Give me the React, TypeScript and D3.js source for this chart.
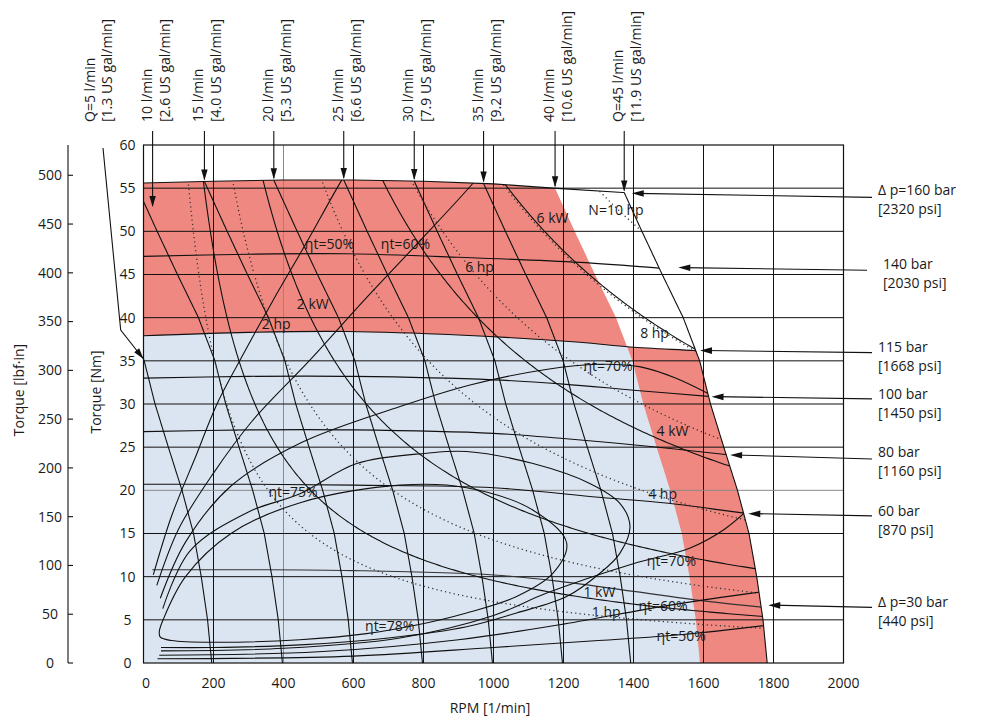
import React from "react";
import * as d3 from "d3";

// ---------- axes ----------
const RPM_TICKS = [0, 200, 400, 600, 800, 1000, 1200, 1400, 1600, 1800, 2000];
const NM_TICKS = [0, 5, 10, 15, 20, 25, 30, 35, 40, 45, 50, 55, 60];
const LBF_TICKS = [0, 50, 100, 150, 200, 250, 300, 350, 400, 450, 500];
const GRAY_RPM = 400;
const GRAY_NM = 20;

// ---------- pressure lines [rpm, Nm] ----------
const P160 = [[0, 55.6], [200, 55.8], [400, 55.95], [600, 55.95], [800, 55.8], [1000, 55.5], [1170, 55.0], [1369, 54.5], [1500, 54.2], [1800, 53.5]];
const P140 = [[0, 47.1], [300, 47.35], [580, 47.4], [900, 47.0], [1247, 46.4], [1485, 45.7], [1650, 45.2]];
const P115 = [[0, 37.9], [300, 38.3], [580, 38.4], [900, 38.0], [1247, 37.15], [1390, 36.6], [1574, 36.2], [1700, 35.9]];
const P100 = [[0, 33.0], [300, 33.2], [600, 33.2], [1000, 32.8], [1200, 32.3], [1400, 31.6], [1623, 30.85], [1750, 30.4]];
const P80 = [[0, 26.8], [300, 27.0], [600, 27.0], [1000, 26.6], [1200, 26.0], [1456, 25.05], [1676, 24.1], [1800, 23.6]];
const P60 = [[0, 20.7], [300, 20.7], [600, 20.6], [1000, 20.3], [1300, 19.2], [1500, 18.5], [1728, 17.3], [1850, 16.8]];
const P30 = [[25, 10.8], [300, 10.8], [600, 10.7], [1000, 10.2], [1200, 9.4], [1400, 8.3], [1600, 7.2], [1785, 6.4], [1900, 6.0]];

// ---------- flow lines ----------
const FLOW_Q = [5, 10, 15, 20, 25, 30, 35, 40, 45];
const FLOW_BASE_RPM = [195, 397, 597, 797, 997, 1197, 1392, 1590, 1782];
const SLIP_TORQUE = [0, 5, 10, 15, 20, 25, 30, 35, 40, 45, 50, 55.6, 60];
const SLIP_RPM = [0, 12, 30, 52, 85, 124, 162, 193, 240, 300, 358, 421, 470];
const FLOW_LABEL_1 = ["Q=5 l/min", "10 l/min", "15 l/min", "20 l/min", "25 l/min", "30 l/min", "35 l/min", "40 l/min", "Q=45 l/min"];
const FLOW_LABEL_2 = ["[1.3 US gal/min]", "[2.6 US gal/min]", "[4.0 US gal/min]", "[5.3 US gal/min]", "[6.6 US gal/min]", "[7.9 US gal/min]", "[9.2 US gal/min]", "[10.6 US gal/min]", "[11.9 US gal/min]"];
const Q10_TIP = [26, 52.7];

// ---------- power lines ----------
const KW_LEVELS = [1, 2, 4, 6];
const HP_LEVELS = [1, 2, 4, 6, 8, 10];

// ---------- efficiency contours [rpm, Nm] ----------
const ETA50_UP = [[28, 10.2], [80, 17], [150, 24], [210, 30], [276, 35.1], [370, 42], [463, 48.5], [566, 55.9], [600, 58]];
const ETA50_LOW = [[40, 0.5], [600, 0.8], [1000, 1.8], [1300, 2.6], [1540, 3.3], [1850, 4.7]];
const ETA60_UP = [[38, 9.0], [100, 15.5], [200, 22], [310, 28], [476, 35.1], [630, 42], [783, 48.6], [942, 55.6], [990, 58]];
const ETA60_LOW = [[45, 0.9], [500, 1.3], [900, 2.7], [1200, 4.5], [1475, 6.5], [1650, 7.6], [1850, 8.7]];
const ETA70_UP = [[48, 7.5], [120, 14], [250, 20.5], [450, 25.5], [733, 29.7], [933, 32.2], [1150, 34], [1300, 34.6], [1420, 34.3], [1520, 33], [1660, 30.2]];
const ETA70_LOW = [[50, 1.4], [400, 1.7], [733, 2.9], [1000, 5.5], [1152, 8.1], [1399, 11.5], [1560, 13.3], [1660, 15.5], [1760, 19]];
const ETA75 = [[55, 6.3], [133, 13], [300, 17.5], [447, 19.6], [609, 23.1], [809, 24.3], [923, 24.5], [1113, 23.1], [1275, 20.8], [1361, 18.5], [1390, 15.8], [1361, 12.7], [1304, 10.4], [1209, 7.7], [1066, 5.8], [923, 4.2], [700, 2.9], [447, 2.1], [200, 1.8], [50, 1.8]];
const ETA78 = [[45, 3.6], [56, 5.0], [120, 10], [250, 15], [450, 18.6], [733, 20.6], [923, 20.3], [1113, 17.7], [1209, 13.9], [1170, 10.4], [1066, 7.7], [923, 5.8], [780, 4.4], [637, 3.4], [447, 2.7], [200, 2.4], [80, 2.6], [48, 3.0]];

// ---------- in-chart labels ----------
const IN_TEXT = ["ηt=50%", "ηt=60%", "6 hp", "2 kW", "2 hp", "6 kW", "N=10 hp", "8 hp", "ηt=70%", "4 kW", "4 hp", "ηt=70%", "1 kW", "1 hp", "ηt=60%", "ηt=50%", "ηt=75%", "ηt=78%"];
const IN_RPM = [461, 678, 919, 438, 338, 1123, 1271, 1419, 1257, 1466, 1442, 1438, 1257, 1281, 1414, 1466, 357, 633];
const IN_NM = [48.5, 48.5, 45.8, 41.6, 39.3, 51.5, 52.5, 38.2, 34.4, 26.9, 19.6, 11.8, 8.2, 5.85, 6.6, 3.1, 19.75, 4.3];

// ---------- pressure labels ----------
const PRESS_LABEL_1 = ["Δ p=160 bar", "140 bar", "115 bar", "100 bar", "80 bar", "60 bar", "Δ p=30 bar"];
const PRESS_LABEL_2 = ["[2320 psi]", "[2030 psi]", "[1668 psi]", "[1450 psi]", "[1160 psi]", "[870 psi]", "[440 psi]"];
const PRESS_TIP_RPM = [1395, 1528, 1590, 1623, 1676, 1728, 1785];
const PRESS_TIP_NM = [54.4, 45.8, 36.2, 30.85, 24.1, 17.3, 6.7];

const RED = "#EF8880";
const BLUE = "#DBE5F1";
const FONT = "'Open Sans', 'Noto Sans', sans-serif";

function head(x1: number, y1: number, x2: number, y2: number, len = 11, hw = 3.2) {
  const a = Math.atan2(y2 - y1, x2 - x1);
  const bx = x2 - len * Math.cos(a), by = y2 - len * Math.sin(a);
  const nx = -Math.sin(a) * hw, ny = Math.cos(a) * hw;
  return `M${x2},${y2}L${bx + nx},${by + ny}L${bx - nx},${by - ny}Z`;
}

export default function App() {
  const x = d3.scaleLinear().domain([0, 2000]).range([143.5, 843.5]);
  const y = d3.scaleLinear().domain([0, 60]).range([663, 145]);
  const yLbf = d3.scaleLinear().domain([0, 60 / 0.112985]).range([663, 145]);

  const pf = (pts: number[][]) => d3.scaleLinear().domain(pts.map((p) => p[0])).range(pts.map((p) => p[1]));
  const p160 = pf(P160);
  const p115 = pf(P115);
  const slip = d3.scaleLinear().domain(SLIP_TORQUE).range(SLIP_RPM);
  const flowAt = (base: number, T: number) => [base - slip(T), T];

  const meet = (base: number, f: (r: number) => number) => {
    let lo = 0, hi = 60;
    for (let i = 0; i < 50; i++) {
      const m = (lo + hi) / 2;
      if (f(base - slip(m)) - m > 0) lo = m; else hi = m;
    }
    return lo;
  };

  const line = d3.line<number[]>().x((p) => x(p[0])).y((p) => y(p[1]));
  const smooth = d3.line<number[]>().x((p) => x(p[0])).y((p) => y(p[1])).curve(d3.curveCatmullRom.alpha(0.5));
  const smoothClosed = d3.line<number[]>().x((p) => x(p[0])).y((p) => y(p[1])).curve(d3.curveCatmullRomClosed.alpha(0.5));

  const b40 = FLOW_BASE_RPM[7];
  const b45 = FLOW_BASE_RPM[8];
  const T45top = meet(b45, p160);
  const r45top = b45 - slip(T45top);
  const T40top = meet(b40, p160);
  const r40top = b40 - slip(T40top);
  const T40_115 = meet(b40, p115);
  const r40_115 = b40 - slip(T40_115);
  const T45_115 = meet(b45, p115);
  const r45_115 = b45 - slip(T45_115);

  const q45Down = d3.range(T45top, 0, -0.25).map((T) => flowAt(b45, T)).concat([[b45, 0]]);
  const topEdge = [[0, p160(0)], ...P160.filter((p) => p[0] > 0 && p[0] < r45top), [r45top, T45top]];
  const envPts = [[0, 0], ...topEdge, ...q45Down];
  const bluePts = [[0, 0], [0, p115(0)], ...P115.filter((p) => p[0] > 0 && p[0] < r40_115), [r40_115, T40_115],
    ...d3.range(T40_115, 0, -0.25).map((T) => flowAt(b40, T)), [b40, 0]];
  const whitePts = [
    ...d3.range(T40_115, T40top, 0.25).map((T) => flowAt(b40, T)), [r40top, T40top],
    ...P160.filter((p) => p[0] > r40top && p[0] < r45top), [r45top, T45top],
    ...d3.range(T45top, T45_115, -0.25).map((T) => flowAt(b45, T)), [r45_115, T45_115],
    ...P115.filter((p) => p[0] > r40_115 && p[0] < r45_115).reverse(),
  ];

  const flowLine = (base: number) => {
    const Ttop = meet(base, p160);
    return d3.range(Ttop, 0, -0.25).map((T) => flowAt(base, T)).concat([[base, 0]]).filter((p) => p[0] >= -5);
  };

  const powerPts = (watts: number) => {
    const rMin = watts / (60 * Math.PI / 30);
    return d3.range(0, 241).map((i) => {
      const r = rMin * Math.pow(2000 / rMin, i / 240);
      return [r, watts / (r * Math.PI / 30)];
    });
  };

  const tipsQ = FLOW_BASE_RPM.map((b, i) => {
    if (i === 0) return [0, SLIP_TORQUE[0] + d3.scaleLinear().domain(SLIP_RPM).range(SLIP_TORQUE)(b)];
    if (i === 1) return Q10_TIP;
    const T = meet(b, p160);
    return [b - slip(T), T];
  });

  const stroke = "#111";
  const txt = "#1a1a1a";

  return (
    <svg width={1003} height={726} style={{ position: "absolute", left: 0, top: 0, background: "#fff" }} fontFamily={FONT}>
      <defs>
        <clipPath id="env"><path d={line(envPts) + "Z"} /></clipPath>
      </defs>
      <rect x={0} y={0} width={1003} height={726} fill="#fff" />

      {/* regions */}
      <path d={line(envPts) + "Z"} fill={RED} />
      <path d={line(bluePts) + "Z"} fill={BLUE} />
      <path d={line(whitePts) + "Z"} fill="#fff" />

      {/* grid */}
      {RPM_TICKS.slice(1, -1).map((v) => (
        <line key={"gx" + v} x1={x(v)} x2={x(v)} y1={y(60)} y2={y(0)} stroke={v === GRAY_RPM ? "#8a8a8a" : stroke} strokeWidth={1} />
      ))}
      {NM_TICKS.slice(1, -1).map((v) => (
        <line key={"gy" + v} x1={x(0)} x2={x(2000)} y1={y(v)} y2={y(v)} stroke={v === GRAY_NM ? "#8a8a8a" : stroke} strokeWidth={1} />
      ))}

      {/* clipped curves */}
      <g clipPath="url(#env)" fill="none">
        {[P140, P115, P100, P80, P60].map((p, i) => (
          <path key={"p" + i} d={smooth(p) || ""} stroke={stroke} strokeWidth={1.1} />
        ))}
        <path d={smooth(P30) || ""} stroke="#333" strokeWidth={1.1} />
        {FLOW_BASE_RPM.slice(0, 7).map((b, i) => (
          <path key={"q" + i} d={line(flowLine(b)) || ""} stroke={stroke} strokeWidth={1.1} />
        ))}
        {KW_LEVELS.map((k) => (
          <path key={"kw" + k} d={line(powerPts(k * 1000)) || ""} stroke={stroke} strokeWidth={1.1} />
        ))}
        {HP_LEVELS.map((h) => (
          <path key={"hp" + h} d={line(powerPts(h * 745.7)) || ""} stroke="#333" strokeWidth={1.3} strokeDasharray="1.2 3.2" />
        ))}
        {[ETA50_UP, ETA50_LOW, ETA60_UP, ETA60_LOW, ETA70_UP, ETA70_LOW, ETA75].map((c, i) => (
          <path key={"eta" + i} d={smooth(c) || ""} stroke={stroke} strokeWidth={1.1} />
        ))}
        <path d={smoothClosed(ETA78) || ""} stroke={stroke} strokeWidth={1.1} />
      </g>

      {/* envelope boundary */}
      <path d={line(topEdge) || ""} fill="none" stroke={stroke} strokeWidth={1.1} />
      <path d={line(q45Down) || ""} fill="none" stroke={stroke} strokeWidth={1.1} />

      {/* frame */}
      <rect x={x(0)} y={y(60)} width={x(2000) - x(0)} height={y(0) - y(60)} fill="none" stroke={stroke} strokeWidth={1.2} />

      {/* Nm axis labels */}
      {NM_TICKS.map((v) => (
        <text key={"ny" + v} x={127.5} y={y(v)} dy="0.35em" textAnchor="middle" fontSize={14} fill={txt}>{v}</text>
      ))}
      {/* lbf axis */}
      <line x1={68} x2={68} y1={y(60)} y2={y(0)} stroke={stroke} strokeWidth={1.1} />
      {LBF_TICKS.map((v) => (
        <g key={"lb" + v}>
          <line x1={68} x2={73} y1={yLbf(v)} y2={yLbf(v)} stroke={stroke} strokeWidth={1.1} />
          <text x={50} y={yLbf(v)} dy="0.35em" textAnchor="middle" fontSize={14} fill={txt}>{v}</text>
        </g>
      ))}
      {/* x labels */}
      {RPM_TICKS.map((v) => (
        <text key={"xl" + v} x={x(v) + (v === 0 ? 2.5 : 0)} y={683} dy="0.35em" textAnchor="middle" fontSize={14} fill={txt}>{v}</text>
      ))}
      <text x={490} y={708} dy="0.35em" textAnchor="middle" fontSize={14} fill={txt}>RPM [1/min]</text>
      <text transform="translate(24,390) rotate(-90)" textAnchor="middle" fontSize={14} fill={txt}>Torque [lbf·in]</text>
      <text transform="translate(101,392) rotate(-90)" textAnchor="middle" fontSize={14} fill={txt}>Torque [Nm]</text>

      {/* in-chart labels */}
      {IN_TEXT.map((t, i) => (
        <text key={"il" + i} x={x(IN_RPM[i])} y={y(IN_NM[i])} dy="0.35em" fontSize={14} fill={txt}>{t}</text>
      ))}

      {/* flow labels + arrows */}
      {FLOW_Q.map((q, i) => {
        const tip = tipsQ[i];
        const tx = x(tip[0]);
        const ty = y(tip[1]);
        if (i === 0) {
          const sx = 103, sy = 148, kx = 120.7, ky = 330;
          return (
            <g key={"fl" + q}>
              <text transform={`translate(95,122) rotate(-90)`} fontSize={14} fill={txt}>{FLOW_LABEL_1[i]}</text>
              <text transform={`translate(112,122) rotate(-90)`} fontSize={14} fill={txt}>{FLOW_LABEL_2[i]}</text>
              <polyline points={`${sx},${sy} ${kx},${ky} ${tx},${ty}`} fill="none" stroke={stroke} strokeWidth={1.1} />
              <path d={head(kx, ky, tx, ty)} fill={stroke} />
            </g>
          );
        }
        const ax = i === 1 ? x(Q10_TIP[0]) : tx;
        return (
          <g key={"fl" + q}>
            <text transform={`translate(${ax - 1},122) rotate(-90)`} fontSize={14} fill={txt}>{FLOW_LABEL_1[i]}</text>
            <text transform={`translate(${ax + 17},122) rotate(-90)`} fontSize={14} fill={txt}>{FLOW_LABEL_2[i]}</text>
            <line x1={ax} x2={ax} y1={131} y2={ty - 2} stroke={stroke} strokeWidth={1.1} />
            <path d={head(ax, 131, ax, ty - 1)} fill={stroke} />
          </g>
        );
      })}

      {/* pressure labels + arrows */}
      {PRESS_LABEL_1.map((t, i) => {
        const tx = x(PRESS_TIP_RPM[i]);
        const ty = y(PRESS_TIP_NM[i]);
        const tailX = i === 1 ? 867 : 872;
        const tailY = ty + (i === 1 ? 2.7 : i === 0 || i === 4 ? 4 : 2.2);
        const lx = i === 1 ? 883 : 878;
        const ly = ty - 3;
        return (
          <g key={"pl" + i}>
            <line x1={tailX} y1={tailY} x2={tx + 4} y2={ty} stroke={stroke} strokeWidth={1.1} />
            <path d={head(tailX, tailY, tx, ty, 12, 3.3)} fill={stroke} />
            <text x={lx} y={ly} dy="0.35em" fontSize={14} fill={txt}>{t}</text>
            <text x={lx} y={ly + 19} dy="0.35em" fontSize={14} fill={txt}>{PRESS_LABEL_2[i]}</text>
          </g>
        );
      })}
    </svg>
  );
}
